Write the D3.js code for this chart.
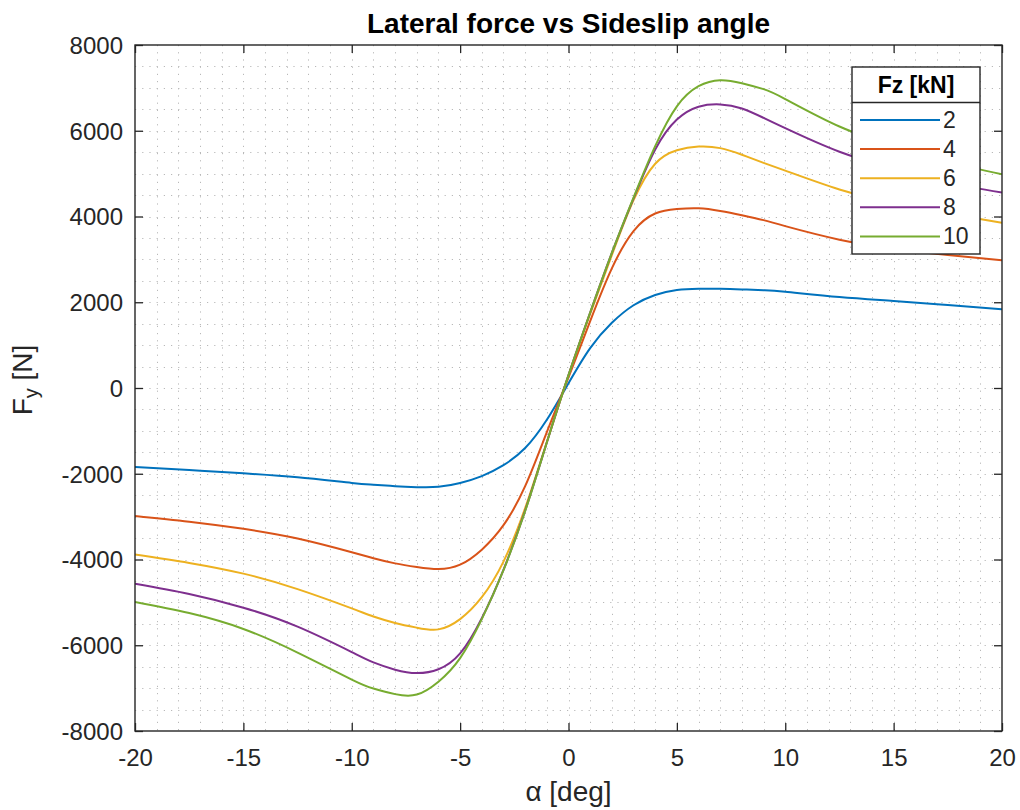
<!DOCTYPE html>
<html>
<head>
<meta charset="utf-8">
<script src="https://cdn.jsdelivr.net/npm/d3@7"></script>
<style>
  html, body { margin: 0; padding: 0; background: #fff; }
  svg { display: block; font-family: "Liberation Sans", Arial, Helvetica, sans-serif; }
</style>
</head>
<body>
<svg id="chart" width="1020" height="810"></svg>
<script>
// ---- data ----
const alphaDeg = [-20, -17.5, -15, -12.5, -10, -9, -8, -7, -6, -5, -4, -3, -2, -1, 0,
                  1, 2, 3, 4, 5, 6, 7, 8, 9, 10, 12.5, 15, 17.5, 20];
const fz2  = [-1845, -1913, -1990, -2083, -2215, -2255, -2290, -2312, -2305, -2215, -2055, -1800, -1400, -740, 110,
              930, 1520, 1930, 2170, 2285, 2315, 2315, 2300, 2280, 2245, 2120, 2030, 1935, 1836];
const fz4  = [-2984, -3118, -3284, -3510, -3830, -3970, -4090, -4175, -4222, -4120, -3770, -3200, -2290, -1030, 250,
              1560, 2790, 3660, 4070, 4175, 4192, 4130, 4030, 3915, 3775, 3460, 3250, 3100, 2978];
const fz6  = [-3884, -4080, -4330, -4690, -5140, -5330, -5480, -5590, -5630, -5390, -4880, -4050, -2800, -1260, 290,
              1730, 3100, 4380, 5230, 5545, 5630, 5595, 5440, 5250, 5070, 4630, 4300, 4070, 3855];
const fz8  = [-4566, -4805, -5124, -5567, -6160, -6400, -6570, -6650, -6560, -6190, -5370, -4240, -2860, -1270, 300,
              1760, 3150, 4420, 5560, 6260, 6560, 6615, 6520, 6300, 6060, 5510, 5120, 4790, 4560];
const fz10 = [-4992, -5250, -5620, -6170, -6800, -7010, -7140, -7150, -6850, -6300, -5390, -4250, -2870, -1270, 300,
              1760, 3150, 4440, 5640, 6570, 7040, 7180, 7110, 6970, 6740, 6100, 5650, 5280, 4984];
const seriesNames = ["2", "4", "6", "8", "10"];
const seriesValues = [fz2, fz4, fz6, fz8, fz10];
const seriesColors = ["#0072BD", "#D95319", "#EDB120", "#7E2F8E", "#77AC30"];
const xTicks = [-20, -15, -10, -5, 0, 5, 10, 15, 20];
const yTicks = [-8000, -6000, -4000, -2000, 0, 2000, 4000, 6000, 8000];
const titleText = "Lateral force vs Sideslip angle";
const xLabelText = "α [deg]";
const legendTitle = "Fz [kN]";

// ---- layout ----
const svg = d3.select("#chart");
const L = 135, R = 1002, T = 45, B = 731;
const axisColor = "#262626";
const x = d3.scaleLinear().domain([-20, 20]).range([L, R]);
const y = d3.scaleLinear().domain([-8000, 8000]).range([B, T]);

svg.append("rect").attr("x", 0).attr("y", 0).attr("width", 1020).attr("height", 810).attr("fill", "#fff");

// grid (major + minor, dotted)
const gridG = svg.append("g").attr("stroke", "#b9b9b9").attr("stroke-width", 1)
  .attr("stroke-dasharray", "1.2,6").attr("fill", "none");
const xGrid = d3.range(-19, 20, 1);
const yGrid = d3.range(-7500, 8000, 500);
gridG.selectAll("line.vx").data(xGrid).join("line").attr("class", "vx")
  .attr("x1", d => Math.round(x(d)) + 0.5).attr("x2", d => Math.round(x(d)) + 0.5)
  .attr("y1", T).attr("y2", B);
gridG.selectAll("line.hy").data(yGrid).join("line").attr("class", "hy")
  .attr("y1", d => Math.round(y(d)) + 0.5).attr("y2", d => Math.round(y(d)) + 0.5)
  .attr("x1", L).attr("x2", R);

// data lines
svg.append("clipPath").attr("id", "clip").append("rect")
  .attr("x", L).attr("y", T).attr("width", R - L).attr("height", B - T);
const lineGen = d3.line().x(d => x(d[0])).y(d => y(d[1])).curve(d3.curveNatural);
const linesG = svg.append("g").attr("clip-path", "url(#clip)");
seriesValues.forEach((vals, i) => {
  linesG.append("path")
    .datum(alphaDeg.map((a, k) => [a, vals[k]]))
    .attr("d", lineGen)
    .attr("fill", "none")
    .attr("stroke", seriesColors[i])
    .attr("stroke-width", 2);
});

// axes (ticks inside, mirrored)
const tickLen = 8;
const fontSize = 24;
const fmt = d => String(d);
const axBottom = svg.append("g").attr("transform", `translate(0,${B})`)
  .call(d3.axisBottom(x).tickValues(xTicks).tickSizeInner(-tickLen).tickSizeOuter(0).tickFormat(fmt));
const axTop = svg.append("g").attr("transform", `translate(0,${T})`)
  .call(d3.axisTop(x).tickValues(xTicks).tickSizeInner(-tickLen).tickSizeOuter(0).tickFormat(""));
const axLeft = svg.append("g").attr("transform", `translate(${L},0)`)
  .call(d3.axisLeft(y).tickValues(yTicks).tickSizeInner(-tickLen).tickSizeOuter(0).tickPadding(12).tickFormat(fmt));
const axRight = svg.append("g").attr("transform", `translate(${R},0)`)
  .call(d3.axisRight(y).tickValues(yTicks).tickSizeInner(-tickLen).tickSizeOuter(0).tickFormat(""));
[axBottom, axTop, axLeft, axRight].forEach(g => {
  g.select(".domain").remove();
  g.selectAll(".tick line").attr("stroke", axisColor).attr("stroke-width", 1.3);
  g.selectAll("text").attr("fill", axisColor).style("font-size", fontSize + "px")
    .style("font-family", '"Liberation Sans", Arial, sans-serif');
});
axBottom.selectAll("text").attr("dy", null).attr("y", 35);
axLeft.selectAll("text").attr("dy", "0.35em");

// box
svg.append("rect").attr("x", L).attr("y", T).attr("width", R - L).attr("height", B - T)
  .attr("fill", "none").attr("stroke", axisColor).attr("stroke-width", 1.4);

// title
svg.append("text").attr("x", (L + R) / 2).attr("y", 33).attr("text-anchor", "middle")
  .attr("font-weight", "bold").attr("font-size", 28).attr("fill", "#000").text(titleText);

// x label
svg.append("text").attr("x", (L + R) / 2).attr("y", 801).attr("text-anchor", "middle")
  .attr("font-size", 28).attr("fill", axisColor).text(xLabelText);

// y label F_y [N]
const yl = svg.append("text").attr("transform", `translate(32,${(T + B) / 2 - 8}) rotate(-90)`)
  .attr("text-anchor", "middle").attr("font-size", 28).attr("fill", axisColor);
yl.append("tspan").text("F");
yl.append("tspan").attr("baseline-shift", "-30%").attr("font-size", 20).text("y");
yl.append("tspan").text(" [N]");

// legend
const lg = svg.append("g");
const lgX = 852, lgY = 67, lgW = 128, lgH = 187;
lg.append("rect").attr("x", lgX).attr("y", lgY).attr("width", lgW).attr("height", lgH)
  .attr("fill", "#fff").attr("stroke", axisColor).attr("stroke-width", 1.4);
lg.append("line").attr("x1", lgX).attr("x2", lgX + lgW).attr("y1", 102.5).attr("y2", 102.5)
  .attr("stroke", axisColor).attr("stroke-width", 1.4);
lg.append("text").attr("x", lgX + lgW / 2).attr("y", 93).attr("text-anchor", "middle")
  .attr("font-weight", "bold").attr("font-size", 23).attr("fill", "#000").text(legendTitle);
seriesNames.forEach((name, i) => {
  const yy = 120 + i * 29.1;
  lg.append("line").attr("x1", 860).attr("x2", 940).attr("y1", yy).attr("y2", yy)
    .attr("stroke", seriesColors[i]).attr("stroke-width", 2);
  lg.append("text").attr("x", 943).attr("y", yy).attr("dy", "0.35em")
    .attr("font-size", 23).attr("fill", axisColor).text(name);
});
</script>
</body>
</html>
